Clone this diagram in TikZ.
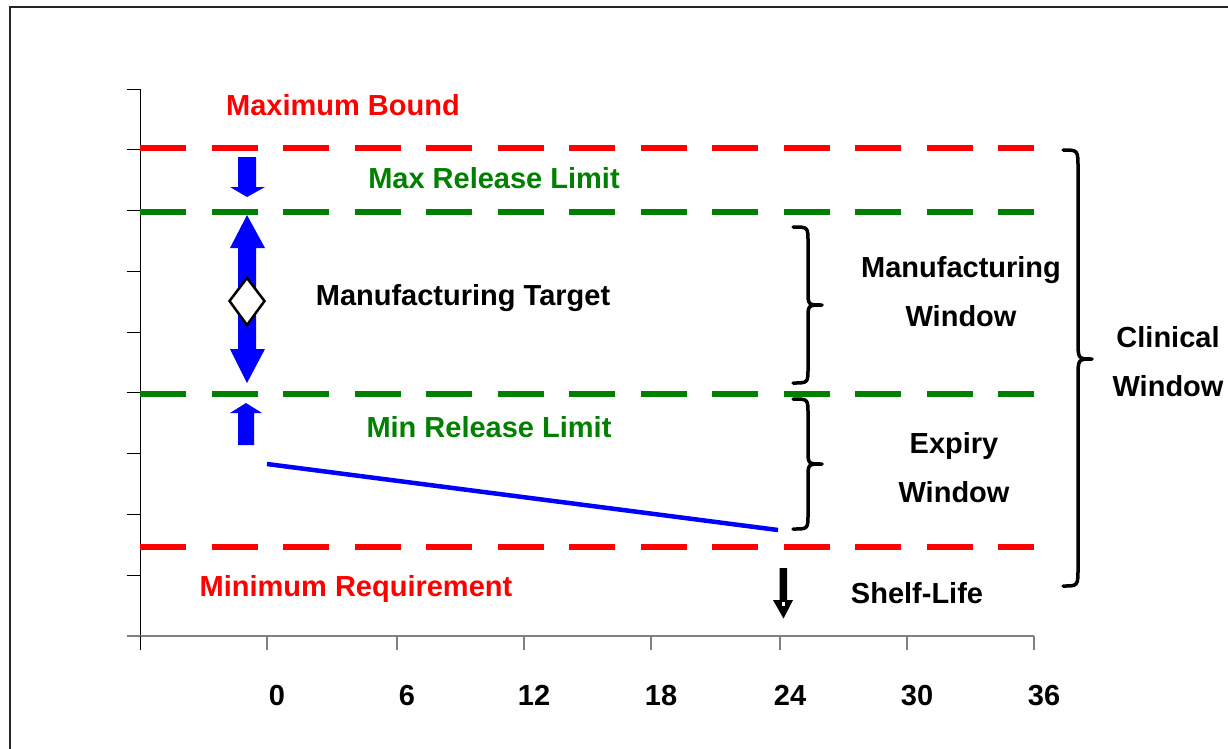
\documentclass[tikz,border=0pt]{standalone}
\usepackage{fontspec}
\setmainfont{Liberation Sans}
\definecolor{xred}{RGB}{255,0,0}
\definecolor{xgreen}{RGB}{0,128,0}
\definecolor{xblue}{RGB}{0,0,255}
\definecolor{axgray}{RGB}{128,128,128}
\begin{document}
\begin{tikzpicture}[x=1pt,y=-1pt,
  lbl/.style={font=\fontsize{29}{49}\selectfont\bfseries, inner sep=0pt, anchor=base, align=center},
  bound/.style={xred, line width=6pt, dash pattern=on 46pt off 25.5pt},
  rel/.style={xgreen, line width=6pt, dash pattern=on 46pt off 25.5pt},
  bluearrow/.style={fill=xblue, draw=none},
  brace/.style={draw=black, line width=3.5pt, line cap=round, line join=round},
  axisy/.style={draw=black, line width=1pt},
  axisx/.style={draw=axgray, line width=2pt}]
\clip (0,0) rectangle (1228,748);
\useasboundingbox (0,0) rectangle (1228,748);
\fill[white] (0,0) rectangle (1228,748);
% frame
\draw[line width=2pt, black!85] (10,800) -- (10,6.5) -- (1300,6.5);
% axes
\coordinate (yt) at (140,89);
\coordinate (yb) at (140,636);
\draw[axisy] (yt) -- (yb);
\foreach \k in {0,...,9} {
  \draw[axisy] (127,{89+\k*60.78}) -- (140,{89+\k*60.78});
}
\coordinate (xl) at (127,636);
\coordinate (xr) at (1034,636);
\draw[axisx] (xl) -- (xr);
\draw[axisy] (140,636) -- (140,650);
\foreach \v/\x in {0/267,6/397,12/524,18/651,24/780,30/907,36/1034} {
  \draw[axisx, line width=1.5pt] (\x,636) -- (\x,650);
  \node[lbl] (t\v) at (\x+10,705.5) {\v};
}
% dashed limits
\coordinate (maxL) at (140,148); \coordinate (maxR) at (1034,148);
\coordinate (mrlL) at (140,212); \coordinate (mrlR) at (1034,212);
\coordinate (minrL) at (140,394); \coordinate (minrR) at (1034,394);
\coordinate (minL) at (140,547); \coordinate (minR) at (1034,547);
\draw[bound] (maxL) -- (maxR);
\draw[rel] (mrlL) -- (mrlR);
\draw[rel] (minrL) -- (minrR);
\draw[bound] (minL) -- (minR);
% blue arrows
\path[bluearrow] (238,157) -- (256,157) -- (256,187) -- (265,187) -- (247,197) -- (230,187) -- (238,187) -- cycle;
\path[bluearrow] (247,215) -- (265,248) -- (256,248) -- (256,349) -- (265,349) -- (247,383) -- (230,349) -- (238,349) -- (238,248) -- (230,248) -- cycle;
\path[bluearrow] (246,403) -- (262,413) -- (254,413) -- (254,445) -- (238,445) -- (238,413) -- (230,413) -- cycle;
% diamond
\draw[black, line width=2.5pt, fill=white, line join=miter] (247,278) -- (264.5,301) -- (247,325) -- (229.5,301) -- cycle;
% decline line
\coordinate (d0) at (267,464);
\coordinate (d1) at (778,530);
\draw[xblue, line width=4.5pt] (d0) -- (d1);
% shelf-life arrow
\fill[black] (779.5,568) -- (787,568) -- (787,600) -- (793,600) -- (783.5,618.5) -- (773,600) -- (779.5,600) -- cycle;
\fill[white] (781.5,602) rectangle (785,605.5);
% braces
\draw[brace] (793,227) .. controls (808,227) .. (808,242) -- (808,291) .. controls (808,305) .. (822,305)
   .. controls (808,305) .. (808,319) -- (808,368) .. controls (808,383) .. (793,383);
\draw[brace] (793,399) .. controls (808,399) .. (808,414) -- (808,450) .. controls (808,464) .. (822,464)
   .. controls (808,464) .. (808,478) -- (808,514) .. controls (808,529) .. (793,529);
\draw[brace] (1063,150) .. controls (1078,150) .. (1078,168) -- (1078,340) .. controls (1078,359) .. (1092,359)
   .. controls (1078,359) .. (1078,378) -- (1078,568) .. controls (1078,586) .. (1063,586);
% labels
\node[lbl, text=xred] (maxb) at (343,115.5) {Maximum Bound};
\node[lbl, text=xgreen] (mrl) at (494,188.5) {Max Release Limit};
\node[lbl] (mt) at (463,305.5) {Manufacturing Target};
\node[lbl, text=xgreen] (minrl) at (489,437.5) {Min Release Limit};
\node[lbl, text=xred] (minreq) at (356,596.5) {Minimum Requirement};
\node[lbl] (shelf) at (917,603.5) {Shelf-Life};
\node[lbl] (mw) at (961,326.5) {Manufacturing\\Window};
\node[lbl] (ew) at (954,502.5) {Expiry\\Window};
\node[lbl] (cw) at (1168,396.5) {Clinical\\Window};
\end{tikzpicture}
\end{document}
